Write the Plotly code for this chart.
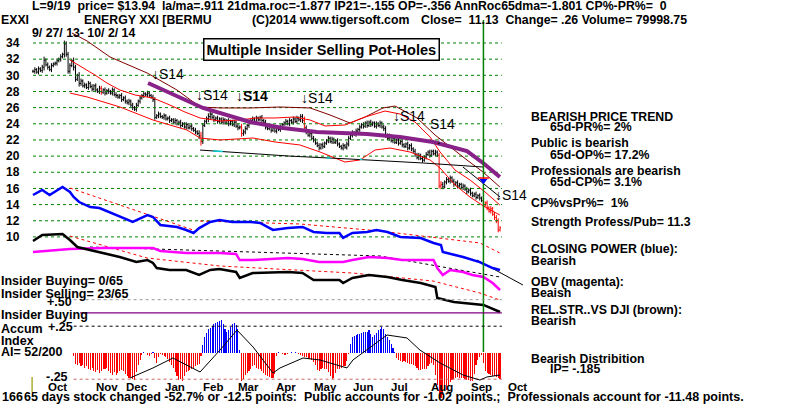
import plotly.graph_objects as go

W, H = 800, 405

# ---------------- data ----------------
close = [
    30.5, 30.7, 30.4, 30.8, 30.6, 31.0,
    31.9, 31.3, 31.0, 30.7, 31.2, 31.4,
    31.5, 31.8, 32.0, 32.3, 32.6,
    33.9, 32.6,
    30.5, 31.2, 31.8,
    31.0, 29.5, 30.0, 29.0, 29.3, 28.7,
    28.8, 28.5, 29.0, 28.6, 28.3, 28.7, 28.2, 28.0, 28.4, 27.9, 28.2, 27.8, 28.1,
    28.0, 27.8, 28.2, 27.6,
    27.5, 27.3, 27.5, 27.0, 27.2, 26.8, 26.6, 26.8, 26.3, 26.0, 25.8,
    26.3, 26.8, 27.2, 27.5, 27.7, 27.6, 27.8, 27.5, 27.3, 27.0,
    24.8,
    25.0, 25.2, 24.9, 24.8, 25.0, 24.6, 24.7, 24.4, 24.5, 24.2, 24.4, 24.0, 24.2, 23.8, 24.0, 23.6, 23.9, 23.5, 23.7, 23.4, 23.2,
    23.0, 22.8, 22.5, 21.8,
    23.8, 24.3, 24.6, 24.9, 25.2, 24.8, 24.5, 24.7, 24.3, 24.6, 24.2, 24.5, 24.1, 24.4, 24.0, 24.3, 23.9, 24.2, 23.7, 23.5, 23.6, 22.8,
    23.0, 23.4, 23.8, 24.2, 24.4, 24.6, 24.3, 24.7, 24.5, 24.8, 24.4, 24.2,
    23.6, 23.4, 23.7, 23.2, 23.5, 23.1, 23.4, 23.3, 23.6, 23.9,
    24.1, 24.3, 24.0, 24.4, 24.2, 24.6, 24.3, 24.7, 24.5, 24.9, 24.4,
    23.5,
    23.0, 22.6, 22.8, 22.2, 22.0,
    21.6, 21.3, 21.0, 21.4, 21.2, 21.6,
    21.9, 22.2, 21.8, 22.1, 21.7, 21.9, 21.5,
    21.2, 21.0, 21.3, 21.1, 21.5,
    22.2, 22.6, 22.9, 22.7, 23.1, 23.3,
    23.6, 23.9, 23.7, 24.1, 23.8, 24.2, 23.9, 24.1, 23.7, 24.0, 23.8, 24.1, 23.6, 23.4,
    22.6, 22.2, 22.5, 21.9, 22.2, 21.7, 22.0, 21.6, 21.8, 21.4,
    21.2, 21.5, 21.0, 21.3, 20.9, 20.6, 20.2, 19.8,
    20.1, 19.7, 19.5, 19.9, 20.2,
    20.5, 20.1, 20.6, 20.3, 20.5, 20.1,
    16.3,
    16.5, 16.2, 16.8, 17.1, 16.9, 17.3,
    16.9, 16.5, 16.7, 16.3, 16.5, 16.1, 16.3, 15.9, 15.6, 15.8,
    15.4, 15.1, 15.3, 14.9, 15.1,
    14.8, 14.5, 13.94, 14.2, 13.6, 13.2, 13.5, 12.8, 12.4, 12.0, 10.87, 11.13,
]
# extra daily reach beyond the open/close span
wick = [
    .2, .3, .2, .3, .2, .3, .4, .2, .3, .2,
    .3, .2, .2, .3, .2, .3, .2, .4, .3, .3,
    .3, .2, .4, .3, .2, .4, .3, .2, .3, .2,
    .3, .2, .3, .2, .3, .2, .3, .3, .2, .3,
    .2, .3, .2, .3, .2, .3, .2, .2, .3, .2,
    .3, .2, .3, .2, .3, .2, .3, .2, .3, .2,
    .3, .2, .3, .2, .2, .3, .3, .2, .3, .2,
    .2, .3, .2, .2, .3, .2, .2, .3, .2, .2,
    .3, .2, .2, .3, .2, .2, .3, .2, .3, .2,
    .4, .5, .3, .2, .3, .4, .3, .2, .3, .2,
    .3, .2, .2, .3, .2, .2, .3, .2, .2, .3,
    .2, .3, .2, .4, .3, .3, .2, .3, .2, .3,
    .2, .3, .2, .2, .3, .2, .3, .2, .2, .3,
    .2, .2, .3, .2, .3, .2, .2, .3, .2, .3,
    .2, .3, .2, .3, .2, .3, .3, .5, .3, .2,
    .3, .2, .3, .2, .2, .3, .2, .3, .2, .2,
    .3, .2, .3, .2, .2, .3, .2, .2, .3, .2,
    .3, .3, .2, .3, .2, .3, .2, .3, .2, .3,
    .2, .3, .2, .3, .2, .2, .3, .2, .3, .2,
    .3, .3, .2, .3, .2, .3, .2, .2, .3, .2,
    .3, .2, .2, .3, .2, .3, .2, .3, .2, .3,
    .2, .3, .2, .3, .2, .3, .2, .2, .3, .2,
    .3, .4, .3, .2, .3, .2, .3, .2, .3, .2,
    .3, .2, .2, .3, .2, .3, .2, .3, .2, .2,
    .3, .2, .3, .2, .3, .2, .3, .2, .3, .2,
    .3, .3, .3, .2,
]
red_days = [37, 91, 113, 147, 220, 221, 244, 245, 246, 247, 248, 249, 250, 251, 252, 253]

# bands (day index, price)
upper_idx = [20, 25.5, 33.6, 40.1, 47.1, 55.3, 65, 74.2, 82.3, 90.5, 101.3, 112.1, 120.3, 131.1, 141.9, 150.1, 158.2, 169, 179.9, 190.7, 198.8, 206.9, 215.1, 220.5, 228.6, 236.7, 244.9, 252.9]
upper_val = [31.9, 31.15, 30.03, 29.04, 28.18, 27.56, 27.19, 26.32, 25.46, 24.72, 24.35, 24.47, 24.72, 24.72, 24.84, 24.47, 23.73, 23.85, 24.84, 25.58, 25.21, 24.22, 22.37, 20.51, 18.28, 17.05, 15.56, 13.95]
lower_idx = [20, 29.3, 47.1, 65, 83.4, 90.5, 101.3, 119.2, 131.1, 144.6, 155.5, 169, 177.1, 185.3, 193.4, 204.2, 215.1, 220.5, 228.6, 236.7, 244.9, 252.9]
lower_val = [27.81, 27.32, 26.08, 24.47, 23.23, 22.24, 22.0, 22.24, 21.75, 21.38, 20.51, 19.27, 19.52, 20.76, 21.0, 20.51, 19.52, 18.53, 16.43, 14.94, 13.7, 12.71]
outer_idx = [21.1, 29.3, 41.7, 61.8, 78, 90.5, 101.3, 117.6, 133.8, 150.1, 160.9, 171.7, 179.9, 189.6, 196.1, 208, 217.8, 225.9, 235.1, 243.8, 252.9]
outer_val = [35.24, 34.25, 32.27, 30.29, 28.18, 26.08, 25.96, 25.96, 26.08, 25.96, 25.09, 24.1, 24.84, 25.96, 26.2, 24.72, 22.61, 21.13, 19.52, 18.03, 16.18]
ma65_idx = [62.3, 74.2, 92.1, 117.6, 135.4, 153.8, 180.9, 198.8, 216.7, 235.1, 243.8, 252.9]
ma65_val = [29.05, 27.81, 25.96, 24.22, 23.48, 22.99, 22.74, 22.37, 21.75, 20.63, 19.15, 17.42]
support_idx = [90.5, 139.2, 171.7, 211.3, 243.8]
support_val = [20.75, 20.0, 19.64, 19.15, 18.65]
support_hi_idx = [97.5, 102.9, None, 159.0, 161.0, None, 177.0, 178.5]
support_hi_val = [20.63, 20.58, None, 19.77, 19.76, None, 19.60, 19.59]
break_idx = [232.9, 253]
break_val = [18.65, 14.94]

# Closing Power (blue), OBV (magenta), Rel.Str vs DJI
cp_idx = [0, 5, 9, 16, 20, 22, 25, 31, 36, 42, 47, 54, 62, 65, 69, 78, 83, 87, 90, 96, 101, 108, 118, 123, 130, 138, 146, 152, 159, 166, 168, 173, 181, 186, 192, 199, 210, 217, 221, 222, 233, 242, 249, 253]
cp_val = [15.19, 15.81, 15.19, 16.18, 15.56, 14.94, 14.32, 13.70, 13.58, 12.97, 12.47, 11.85, 12.71, 12.47, 11.48, 11.23, 10.86, 10.49, 11.10, 11.85, 12.09, 11.85, 11.85, 11.72, 10.86, 11.10, 11.23, 10.61, 10.49, 10.49, 9.87, 10.49, 10.61, 10.86, 10.61, 10.0, 9.87, 9.25, 9.0, 8.13, 7.51, 6.89, 6.15, 5.91]
obv_idx = [0, 11, 20, 38, 62, 65, 69, 83, 101, 110, 112, 119, 138, 146, 155, 168, 173, 182, 192, 200, 209, 217, 219, 222, 226, 233, 238, 244, 249, 253]
obv_val = [8.13, 8.38, 8.50, 8.63, 8.63, 8.63, 8.26, 8.01, 8.01, 7.89, 7.14, 7.14, 7.39, 7.27, 6.89, 6.89, 7.14, 7.51, 7.39, 7.14, 7.14, 7.14, 6.15, 5.29, 5.91, 5.66, 5.29, 5.04, 4.30, 3.43]
rs_idx = [0, 5, 16, 20, 24, 31, 38, 47, 56, 62, 65, 67, 74, 83, 90, 96, 101, 110, 112, 119, 138, 146, 152, 159, 166, 168, 173, 182, 192, 200, 210, 218, 219, 228, 244, 253]
rs_val = [9.49, 10.24, 10.36, 9.62, 8.75, 8.38, 8.01, 7.51, 6.89, 7.14, 6.77, 6.15, 5.91, 5.91, 5.29, 5.91, 6.02, 5.66, 4.92, 5.53, 5.66, 5.53, 4.67, 4.67, 4.67, 4.30, 4.92, 5.29, 5.04, 4.67, 4.30, 3.80, 2.44, 1.95, 1.58, 0.71]
trend1_idx = [20, 86.7]
trend1_val = [16.05, 10.86]
trend2_idx = [90.5, 144.6, 188, 242.1, 252.9]
trend2_val = [11.97, 11.6, 10.73, 9.25, 8.01]
trend3_idx = [20, 61.8, 101.3, 173.3, 216.7, 242.1, 252.9]
trend3_val = [10.11, 7.39, 6.4, 5.53, 4.54, 3.06, 2.19]
obv_trend_idx = [30.9, 188, 252.9]
obv_trend_val = [8.75, 7.64, 5.04]
cp_break_idx = [240.5, 265.4]
cp_break_val = [7.14, 4.05]

# Accumulation Index (daily, from day 22)
ai_start = 22
ai = [
    -0.03, -0.11, -0.12, -0.10, -0.13, -0.12, -0.14, -0.13,
    -0.15, -0.16, -0.14, -0.17, -0.18, -0.16, -0.19, -0.17, -0.15, -0.15,
    -0.14, -0.17, -0.19, -0.21, -0.18, -0.21, -0.19, -0.17, -0.16, -0.17,
    -0.20, -0.22, -0.24, -0.23, -0.25, -0.26, -0.18, -0.12,
    -0.07, -0.02, 0.01, 0.00, -0.02, -0.03, -0.01, 0.01, -0.05,
    -0.10, -0.04, -0.01, -0.02, -0.03, -0.04, -0.06, -0.09, -0.12,
    -0.14, -0.18, -0.22, -0.26, -0.25, -0.27, -0.22, -0.18,
    -0.17, -0.16, -0.15, -0.14, -0.13, -0.12, -0.11, -0.03,
    0.07, 0.15, 0.19, 0.22, 0.23, 0.25, 0.27, 0.28,
    0.29, 0.30, 0.31, 0.27, 0.22, 0.20, 0.21, 0.24,
    0.27, 0.28, 0.26, 0.22, 0.03,
    -0.27, -0.25, -0.21, -0.19, -0.17, -0.15, -0.13,
    -0.12, -0.14, -0.15, -0.15, -0.17, -0.19, -0.21,
    -0.22, -0.23, -0.24, -0.24, -0.20, -0.03, 0.01,
    0.00, -0.01, -0.02, -0.02, -0.01, 0.00, 0.01, 0.00,
    0.01, 0.00, -0.01, -0.02, -0.03, -0.04, -0.04, -0.05,
    -0.06, -0.07, -0.09, -0.12, -0.16, -0.17, -0.15, -0.14,
    -0.15, -0.15, -0.18, -0.22, -0.25, -0.24, -0.19, -0.15,
    -0.15, -0.14, -0.13, -0.13, -0.08, -0.01, 0.08,
    0.15, 0.16, 0.17, 0.18, 0.18, 0.19, 0.20, 0.20,
    0.20, 0.21, 0.18, 0.15, 0.17, 0.19, 0.21, 0.22,
    0.24, 0.22, 0.18, 0.15, 0.12, 0.08, 0.04, 0.01,
    -0.05, -0.07, -0.08, -0.09, -0.08, -0.09, -0.10, -0.11,
    -0.11, -0.12, -0.13, -0.14, -0.16, -0.16, -0.15, -0.15,
    -0.15, -0.13, -0.11, -0.10, -0.12, -0.21, -0.30, -0.38,
    -0.43, -0.40, -0.36, -0.35, -0.31, -0.28, -0.26, -0.25,
    -0.24, -0.23, -0.24, -0.24, -0.24, -0.25, -0.26, -0.26,
    -0.27, -0.27, -0.20, -0.12, -0.07, -0.04, -0.02, -0.10,
    -0.17, -0.19, -0.20, -0.21, -0.22, -0.22, -0.23, -0.24, -0.25,
]
ai_ma_idx = [52.5, 65, 75.8, 86.7, 90.5, 101.3, 110.5, 119.2, 130, 133.8, 146.3, 155.5, 170.1, 173.3, 180.9, 191.8, 202.6, 209.6, 220.5, 232.9, 242.1, 245.9, 253]
ai_ma_val = [-0.239, -0.144, -0.05, -0.144, -0.182, 0.025, 0.214, 0.054, -0.192, -0.144, -0.05, -0.069, -0.144, -0.069, 0.025, 0.167, 0.139, 0.025, -0.097, -0.21, -0.258, -0.229, -0.21]
ai_levels = [0.50, 0.25, -0.25]
insider_line = 0.375

price_ticks = [10, 12, 14, 16, 18, 20, 22, 24, 26, 28, 30, 32, 34]
months = ["Oct", "Nov", "Dec", "Jan", "Feb", "Mar", "Apr", "May", "Jun", "Jul", "Aug", "Sep", "Oct"]
month_pos = [13.0, 40.1, 56.3, 76.9, 97.5, 116.5, 137.1, 158.2, 178.8, 198.3, 221.6, 242.7, 262.7]
signal_day = 244

# ---------------- figure ----------------
fig = go.Figure()
FONT = "Liberation Sans, Arial, sans-serif"
NB = "\u00a0"

def line(x, y, color, width=1, dash=None, axis="y"):
    fig.add_trace(go.Scatter(x=x, y=y, mode="lines", yaxis=axis, hoverinfo="skip",
                             line=dict(color=color, width=width, dash=dash)))

# price grid
gx, gy = [], []
for v in price_ticks:
    gx += [0, 254, None]
    gy += [v, v, None]
line(gx, gy, "#008000", 1, "dot")

# AI levels
line([22, 254], [ai_levels[0]] * 2, "#999999", 1, "dot", "y2")
line([22, 254], [ai_levels[1]] * 2, "#000000", 1, "dot", "y2")
line([22, 254], [ai_levels[2]] * 2, "#cc6666", 1, "dot", "y2")
line([25.5, 254], [insider_line] * 2, "#800080", 1.3, None, "y2")
line([-0.5, -0.5], [-0.23, -0.37], "#999900", 1.2, None, "y2")

# AI bars
ai_x = list(range(ai_start, ai_start + len(ai)))
fig.add_trace(go.Bar(x=ai_x, y=ai, yaxis="y2", width=0.6, hoverinfo="skip",
                     marker=dict(color=["#0000FF" if v > 0 else "#FF0000" for v in ai], line=dict(width=0))))
line(ai_ma_idx, ai_ma_val, "#000000", 1, None, "y2")

# bands
line(outer_idx, outer_val, "#800000", 1)
line(upper_idx, upper_val, "#FF0000", 1)
line(lower_idx, lower_val, "#FF0000", 1)
line(support_idx, support_val, "#000000", 1)
line(support_hi_idx, support_hi_val, "#00CCCC", 1.5)
line(break_idx, break_val, "#000000", 1)
line(ma65_idx, ma65_val, "#882288", 4)

# indicator lines
line(trend1_idx, trend1_val, "#FF0000", 1, "dot")
line(trend2_idx, trend2_val, "#FF0000", 1, "dot")
line(trend3_idx, trend3_val, "#FF0000", 1, "dot")
line(obv_trend_idx, obv_trend_val, "#000000", 1, "dot")
line(cp_break_idx, cp_break_val, "#000000", 1)
line(cp_idx, cp_val, "#0000FF", 2.5)
line(obv_idx, obv_val, "#FF00FF", 2.5)
line(rs_idx, rs_val, "#000000", 2.5)

# price bars (open = previous close)
opens = [close[0]] + close[:-1]
days = list(range(len(close)))
for want_red, col in ((False, "#000000"), (True, "#FF0000")):
    sel = [d for d in days if (d in red_days) == want_red]
    o = [opens[d] for d in sel]
    c = [close[d] for d in sel]
    wk = [wick[d] for d in sel]
    fig.add_trace(go.Ohlc(x=sel, open=o, close=c,
                          high=[max(a, b) + w for a, b, w in zip(o, c, wk)],
                          low=[min(a, b) - w for a, b, w in zip(o, c, wk)],
                          increasing_line_color=col, decreasing_line_color=col,
                          line=dict(width=1), tickwidth=0.5, hoverinfo="skip"))

# signal line and marker
line([signal_day, signal_day], [36.85, -4.24], "#008000", 1.5)
line([signal_day - 3, signal_day + 3], [17.29, 17.29], "#FF0000", 1.5)
fig.add_trace(go.Scatter(x=[signal_day], y=[16.95], mode="markers", hoverinfo="skip",
                         marker=dict(symbol="triangle-down", size=7, color="#0000FF")))

# ---------------- text ----------------
ann = []

def txt(s, x, y, size=12.3, anchor="left", bold=True, color="black"):
    ann.append(dict(text=(f"<b>{s}</b>" if bold else s), x=x / W, y=1 - y / H, xref="paper", yref="paper",
                    xanchor=anchor, yanchor="middle", showarrow=False, borderpad=0,
                    font=dict(family=FONT, size=size, color=color)))

txt(f"L=9/19 {NB}price= $13.94 {NB}la/ma=.911 21dma.roc=-1.877 IP21=-.155 OP=-.356 AnnRoc65dma=-1.801 CP%-PR%= {NB}0", 31, 6, 12.3)
txt("EXXI", 0, 20, 12.3)
txt("ENERGY XXI [BERMU", 83, 20, 12.3)
txt("(C)2014 www.tigersoft.com", 251, 20, 12.3)
txt(f"Close= {NB}11.13 {NB}Change= .26 Volume= 79998.75", 420, 20, 12.3)
txt("9/ 27/ 13- 10/ 2/ 14", 31, 33, 12.3)
ann.append(dict(text="<b>Multiple Insider Selling Pot-Holes</b>", x=321 / W, y=1 - 49 / H, xref="paper", yref="paper",
                xanchor="center", yanchor="middle", showarrow=False, bgcolor="white",
                bordercolor="black", borderwidth=1.5, borderpad=2,
                font=dict(family=FONT, size=14.5, color="black")))

for s, x, y in [("↓S14", 151, 74), ("↓S14", 195, 95), ("↓S14", 300, 98), ("↓S14", 392, 116), ("↓S14", 494, 195)]:
    txt(s, x, y, 14, bold=False)
txt("↓S14", 235, 96, 14)
txt("S14", 429, 124, 14, bold=False)
txt("↓", 435, 140, 11, bold=False)

right = [
    ("BEARISH PRICE TREND", 530, 117), ("65d-PR%= 2%", 549, 127),
    ("Public is bearish", 530, 143), ("65d-OP%= 17.2%", 549, 155),
    ("Professionals are bearish", 530, 171), ("65d-CP%= 3.1%", 549, 182),
    (f"CP%vsPr%= {NB}1%", 530, 203), ("Strength Profess/Pub= 11.3", 530, 222),
    ("CLOSING POWER (blue):", 530, 249), ("Bearish", 530, 261),
    ("OBV (magenta):", 530, 282), ("Beaish", 530, 293),
    ("REL.STR..VS DJI (brown):", 530, 310), ("Bearish", 530, 321),
    ("Bearish Distribition", 530, 359), ("IP= -.185", 549, 369),
]
for s, x, y in right:
    txt(s, x, y)

left = [
    ("Insider Buying= 0/65", 0, 281), ("Insider Selling= 23/65", 0, 294),
    ("+.50", 46, 302), ("Insider Buying", 0, 315), ("Accum", 0, 329), ("+.25", 47, 327),
    ("Index", 0, 341), ("AI= 52/200", 0, 352), ("-.25", 45, 377),
]
for s, x, y in left:
    txt(s, x, y, 12.5)

txt("166", 1, 397, 12.5)
txt(f"65 days stock changed -52.7% or -12.5 points: {NB}Public accounts for -1.02 points.; {NB}Professionals account for -11.48 points.", 23, 397, 12.5)

for m, p in zip(months, month_pos):
    ann.append(dict(text=f"<b>{m}</b>", x=p, y=1 - 387 / H, xref="x", yref="paper", xanchor="center",
                    yanchor="middle", showarrow=False, font=dict(family=FONT, size=11.5, color="black")))

fig.update_layout(
    width=W, height=H, margin=dict(l=0, r=0, t=0, b=0),
    paper_bgcolor="white", plot_bgcolor="white", showlegend=False,
    annotations=ann, bargap=0,
    xaxis=dict(range=[-17.876, 415.49], visible=False, rangeslider=dict(visible=False), fixedrange=True),
    yaxis=dict(range=[-10.80, 39.32], tickvals=price_ticks, ticklabelposition="inside", ticks="",
               ticklabelstandoff=3, showgrid=False, zeroline=False, showline=False, fixedrange=True,
               tickfont=dict(family=FONT, size=12, color="black", weight="bold")),
    yaxis2=dict(range=[-0.4934, 3.3274], overlaying="y", visible=False, fixedrange=True),
)

fig.write_html("out.html", config={"displayModeBar": False, "staticPlot": True},
               post_script="document.body.style.margin='0px';")
